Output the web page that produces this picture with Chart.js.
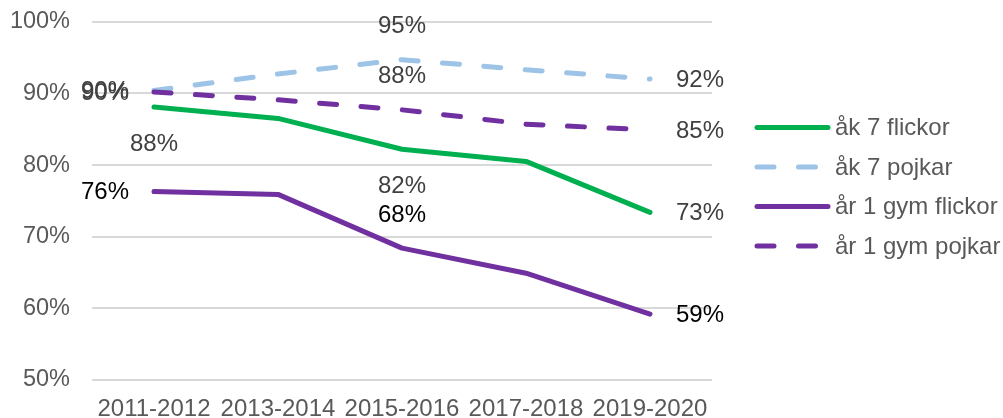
<!DOCTYPE html>
<html>
<head>
<meta charset="utf-8">
<script src="https://cdn.jsdelivr.net/npm/chart.js@4/dist/chart.umd.min.js"></script>
<style>
  html, body { margin: 0; padding: 0; background: #ffffff; }
  #wrap { width: 1003px; height: 418px; position: relative; }
</style>
</head>
<body>
<div id="wrap"><canvas id="c"></canvas></div>
<script>
// ---- Data ----
const categories = ['2011-2012', '2013-2014', '2015-2016', '2017-2018', '2019-2020'];
const seriesNames = ['åk 7 flickor', 'åk 7 pojkar', 'år 1 gym flickor', 'år 1 gym pojkar'];
const ak7Flickor = [88.1, 86.5, 82.2, 80.5, 73.4];
const ak7Pojkar  = [90.4, 92.7, 94.7, 93.3, 92.0];
const gymFlickor = [76.3, 75.9, 68.4, 64.9, 59.2];
const gymPojkar  = [90.2, 89.1, 87.7, 85.7, 84.9];
const yTickValues = [50, 60, 70, 80, 90, 100];

// ---- Styles ----
const FONT = '"Liberation Sans", Arial, sans-serif';
const GREEN = '#00B050', LIGHTBLUE = '#9DC3E6', PURPLE = '#7030A0';
const DASH = [17, 24.5];

// label placement per dataset (style, not data)
const labelPlacement = [
  ['below', null, 'below', null, 'right'],
  ['left',  null, 'above', null, 'right'],
  ['left',  null, 'above', null, 'right'],
  ['left',  null, 'above', null, 'right']
];
const labelColors = ['#404040', '#404040', '#000000', '#404040'];

const dataLabelPlugin = {
  id: 'dataLabels',
  afterDatasetsDraw(chart) {
    const ctx = chart.ctx;
    ctx.save();
    ctx.font = '24px ' + FONT;
    ctx.textBaseline = 'middle';
    chart.data.datasets.forEach((ds, di) => {
      const meta = chart.getDatasetMeta(di);
      meta.data.forEach((pt, i) => {
        const pl = labelPlacement[di][i];
        if (!pl) return;
        const txt = Math.round(ds.data[i]) + '%';
        ctx.fillStyle = labelColors[di];
        let x = pt.x, y = pt.y;
        if (pl === 'left') { ctx.textAlign = 'right'; x -= 25; }
        else if (pl === 'right') { ctx.textAlign = 'left'; x += 26; }
        else if (pl === 'above') { ctx.textAlign = 'center'; y -= 34; }
        else if (pl === 'below') { ctx.textAlign = 'center'; y += 36; }
        ctx.fillText(txt, x, y + 1);
      });
    });
    ctx.restore();
  }
};

const legendPlugin = {
  id: 'customLegend',
  afterDraw(chart) {
    const ctx = chart.ctx;
    const ca = chart.chartArea;
    ctx.save();
    ctx.font = '24px ' + FONT;
    ctx.textBaseline = 'middle';
    ctx.textAlign = 'left';
    const x0 = ca.right + 45, len = 71, tx = ca.right + 123;
    chart.data.datasets.forEach((ds, i) => {
      const y = 127.5 + i * 39.5;
      ctx.beginPath();
      ctx.strokeStyle = ds.borderColor;
      ctx.lineWidth = ds.borderWidth;
      ctx.lineCap = 'round';
      ctx.setLineDash(ds.borderDash || []);
      ctx.moveTo(x0, y);
      ctx.lineTo(x0 + len, y);
      ctx.stroke();
      ctx.setLineDash([]);
      ctx.fillStyle = '#595959';
      ctx.fillText(ds.label, tx, y + 1);
    });
    ctx.restore();
  }
};

const mk = (label, data, color, dash, order) => ({
  label, data, borderColor: color, backgroundColor: color,
  borderWidth: 5, borderDash: dash, borderCapStyle: 'round', borderJoinStyle: 'round',
  pointRadius: 0, pointHoverRadius: 0, tension: 0, fill: false, order
});

new Chart(document.getElementById('c'), {
  type: 'line',
  data: {
    labels: categories,
    datasets: [
      mk(seriesNames[0], ak7Flickor, GREEN, [], 4),
      mk(seriesNames[1], ak7Pojkar, LIGHTBLUE, DASH, 3),
      mk(seriesNames[2], gymFlickor, PURPLE, [], 2),
      mk(seriesNames[3], gymPojkar, PURPLE, DASH, 1)
    ]
  },
  options: {
    responsive: true,
    maintainAspectRatio: false,
    animation: false,
    layout: { padding: { left: 0, top: 21.7, right: 291, bottom: 0 } },
    plugins: { legend: { display: false }, tooltip: { enabled: false } },
    scales: {
      x: {
        type: 'category',
        offset: true,
        grid: { display: false },
        border: { display: false },
        ticks: { color: '#595959', font: { family: FONT, size: 24 }, padding: 7, maxRotation: 0, autoSkip: false },
        afterFit(s) { s.height = 38; s.paddingLeft = 0; s.paddingRight = 0; }
      },
      y: {
        min: 50, max: 100,
        afterBuildTicks(s) { s.ticks = yTickValues.map(v => ({ value: v })); },
        grid: { color: '#d9d9d9', lineWidth: 2, drawTicks: false },
        border: { display: false },
        ticks: { color: '#595959', font: { family: FONT, size: 23.5 }, padding: 22, callback: v => v + '%' },
        afterFit(s) { s.width = 92; s.paddingTop = 0; s.paddingBottom = 0; }
      }
    }
  },
  plugins: [dataLabelPlugin, legendPlugin]
});
</script>
</body>
</html>
